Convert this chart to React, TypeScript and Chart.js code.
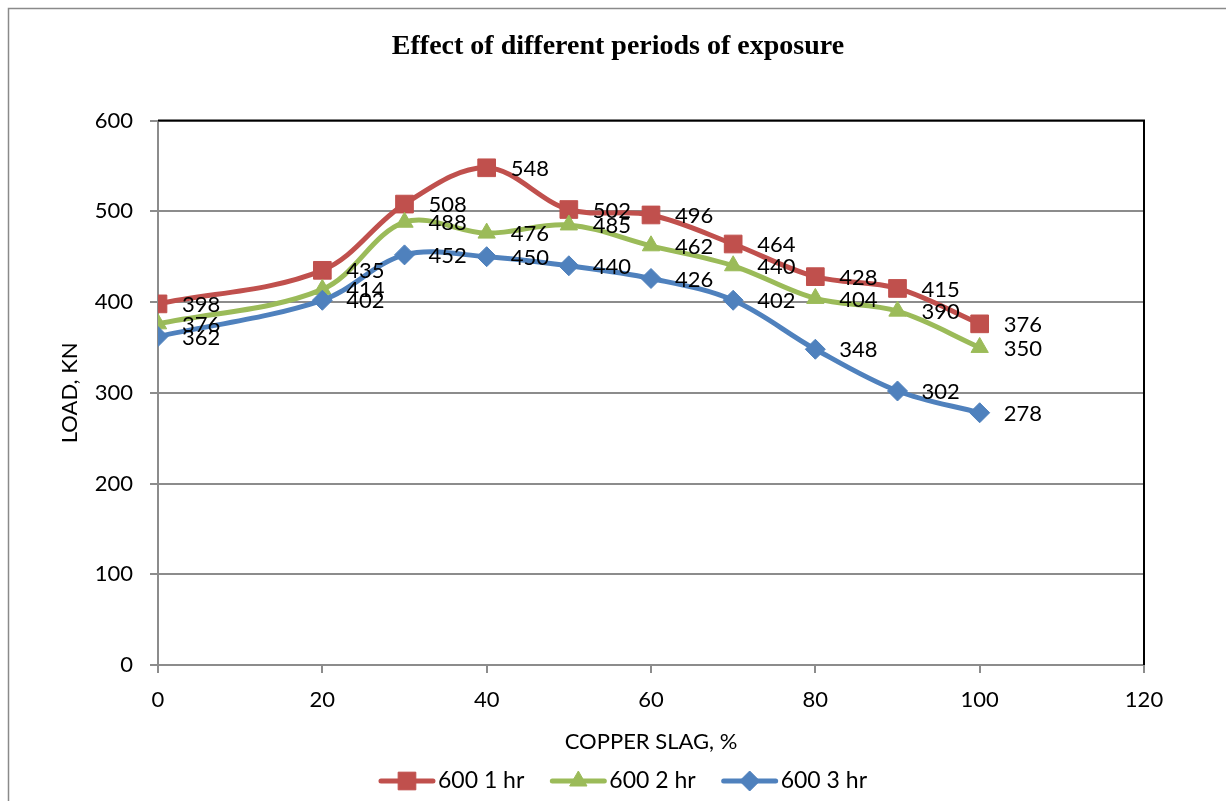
import React, { useEffect, useRef } from "react";
import { Chart, registerables } from "chart.js";

Chart.register(...registerables);

// ---- data ----
const copperSlag = [0, 20, 30, 40, 50, 60, 70, 80, 90, 100];
const load1hr = [398, 435, 508, 548, 502, 496, 464, 428, 415, 376];
const load2hr = [376, 414, 488, 476, 485, 462, 440, 404, 390, 350];
const load3hr = [362, 402, 452, 450, 440, 426, 402, 348, 302, 278];
const seriesNames = ["600 1 hr", "600 2 hr", "600 3 hr"];
const xTicks = [0, 20, 40, 60, 80, 100, 120];
const yTicks = [0, 100, 200, 300, 400, 500, 600];
const chartTitle = "Effect of different periods of exposure";
const xTitle = "COPPER SLAG, %";
const yTitle = "LOAD, KN";

// ---- styles ----
const COLORS = ["#C0504D", "#9BBB59", "#4F81BD"];
const STYLES = ["rect", "triangle", "rectRot"];
const RADII = [12.5, 10, 10];
const GRID = "#8C8C8C";
const FONT = "Lato";

const seriesValues = [load1hr, load2hr, load3hr];

function drawMarker(ctx: CanvasRenderingContext2D, style: string, r: number, x: number, y: number) {
  ctx.beginPath();
  if (style === "rect") {
    const s = Math.SQRT1_2 * r;
    ctx.rect(x - s, y - s, 2 * s, 2 * s);
  } else if (style === "triangle") {
    for (let k = 0; k < 3; k++) {
      const a = (k * 2 * Math.PI) / 3;
      const px = x + Math.sin(a) * r;
      const py = y - Math.cos(a) * r;
      if (k === 0) ctx.moveTo(px, py);
      else ctx.lineTo(px, py);
    }
    ctx.closePath();
  } else {
    ctx.moveTo(x - r, y);
    ctx.lineTo(x, y - r);
    ctx.lineTo(x + r, y);
    ctx.lineTo(x, y + r);
    ctx.closePath();
  }
  ctx.fill();
  ctx.lineWidth = 1;
  ctx.stroke();
}

const decorPlugin = {
  id: "decor",
  beforeDraw(chart: any) {
    const { ctx, width, height } = chart;
    ctx.save();
    ctx.fillStyle = "#ffffff";
    ctx.fillRect(0, 0, width, height);
    ctx.strokeStyle = "#8A8A8A";
    ctx.lineWidth = 1.5;
    ctx.beginPath();
    ctx.moveTo(8.5, height + 5);
    ctx.lineTo(8.5, 8.5);
    ctx.lineTo(width + 5, 8.5);
    ctx.stroke();
    ctx.restore();
  },
  afterDraw(chart: any) {
    const { ctx, chartArea } = chart;
    ctx.save();
    // black top and right plot border
    ctx.strokeStyle = "#000000";
    ctx.lineWidth = 2;
    ctx.beginPath();
    ctx.moveTo(chartArea.left, chartArea.top);
    ctx.lineTo(chartArea.right, chartArea.top);
    ctx.lineTo(chartArea.right, chartArea.bottom);
    ctx.stroke();

    // data labels
    ctx.fillStyle = "#000000";
    ctx.font = `22px ${FONT}`;
    ctx.textAlign = "left";
    ctx.textBaseline = "middle";
    chart.data.datasets.forEach((_ds: any, i: number) => {
      const meta = chart.getDatasetMeta(i);
      meta.data.forEach((pt: any, j: number) => {
        ctx.fillText(String(seriesValues[i][j]), pt.x + 24, pt.y + 1);
      });
    });

    // legend
    const legendY = 781;
    const markW = 56;
    const gapText = 3;
    const gapItem = 26;
    ctx.font = `23px ${FONT}`;
    const widths = seriesNames.map((n) => ctx.measureText(n).width);
    const total =
      widths.reduce((a, b) => a + b, 0) +
      seriesNames.length * (markW + gapText) +
      (seriesNames.length - 1) * gapItem;
    let x = chart.width / 2 + 10 - total / 2;
    seriesNames.forEach((name, i) => {
      ctx.strokeStyle = COLORS[i];
      ctx.lineWidth = 5;
      ctx.lineCap = "round";
      ctx.beginPath();
      ctx.moveTo(x + 2, legendY);
      ctx.lineTo(x + markW - 2, legendY);
      ctx.stroke();
      ctx.lineCap = "butt";
      ctx.fillStyle = COLORS[i];
      ctx.strokeStyle = COLORS[i];
      drawMarker(ctx, STYLES[i], RADII[i], x + markW / 2, legendY);
      ctx.fillStyle = "#000000";
      ctx.fillText(name, x + markW + gapText, legendY);
      x += markW + gapText + widths[i] + gapItem;
    });
    ctx.restore();
  },
};

export default function App() {
  const ref = useRef<HTMLCanvasElement>(null);

  useEffect(() => {
    const canvas = ref.current;
    if (!canvas) return;
    const tickFont = { family: FONT, size: 22 };
    const chart = new Chart(canvas, {
      type: "line",
      data: {
        datasets: seriesValues.map((vals, i) => ({
          label: seriesNames[i],
          data: copperSlag.map((x, j) => ({ x, y: vals[j] })),
          borderColor: COLORS[i],
          backgroundColor: COLORS[i],
          borderWidth: 5,
          pointStyle: STYLES[i] as any,
          pointRadius: RADII[i],
          pointBorderWidth: 1,
          pointBorderColor: COLORS[i],
          pointBackgroundColor: COLORS[i],
          tension: 0.35,
          fill: false,
          order: 2 - i,
        })),
      },
      options: {
        responsive: false,
        animation: false,
        layout: { padding: { left: 10, right: 0, top: 0, bottom: 41 } },
        plugins: {
          legend: { display: false },
          tooltip: { enabled: false },
          title: {
            display: true,
            text: chartTitle,
            color: "#000000",
            font: { family: "'Liberation Serif'", size: 28, weight: "bold" },
            padding: { top: 30, bottom: 57 },
          },
        },
        scales: {
          x: {
            type: "linear",
            min: 0,
            max: 120,
            afterBuildTicks: (s: any) => {
              s.ticks = xTicks.map((v) => ({ value: v }));
            },
            ticks: { color: "#000000", font: tickFont, padding: 14, maxRotation: 0 },
            grid: { drawOnChartArea: false, drawTicks: true, tickLength: 8, color: GRID, lineWidth: 2 },
            border: { color: GRID, width: 2 },
            title: {
              display: true,
              text: xTitle,
              color: "#000000",
              font: { family: FONT, size: 22 },
              padding: { top: 0, bottom: 5 },
            },
            afterFit: (s: any) => {
              s.height = 95;
            },
          },
          y: {
            type: "linear",
            min: 0,
            max: 600,
            afterBuildTicks: (s: any) => {
              s.ticks = yTicks.map((v) => ({ value: v }));
            },
            ticks: { color: "#000000", font: tickFont, padding: 17 },
            grid: { color: GRID, lineWidth: 2, tickLength: 8 },
            border: { color: GRID, width: 2 },
            title: {
              display: true,
              text: yTitle,
              color: "#000000",
              font: { family: FONT, size: 22 },
              padding: { top: 47, bottom: 0 },
            },
            afterFit: (s: any) => {
              s.width = 148;
            },
          },
          y2: {
            type: "linear",
            position: "right",
            display: true,
            ticks: { display: false },
            grid: { display: false, drawTicks: false },
            border: { display: false },
            afterFit: (s: any) => {
              s.width = 82;
            },
          },
        },
      },
      plugins: [decorPlugin],
    } as any);
    return () => chart.destroy();
  }, []);

  return (
    <div style={{ position: "absolute", left: 0, top: 0, width: 1226, height: 801 }}>
      <canvas ref={ref} width={1226} height={801} />
    </div>
  );
}
